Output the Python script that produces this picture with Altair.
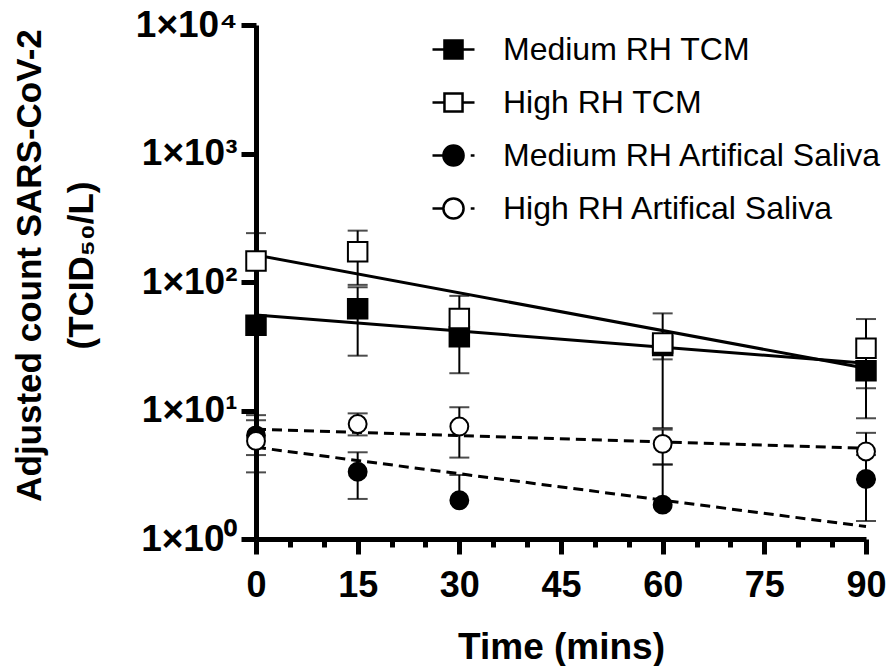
import altair as alt
import pandas as pd

series = ["Medium RH TCM", "High RH TCM", "Medium RH Artifical Saliva", "High RH Artifical Saliva"]
times = [0, 15, 30, 60, 90]

med_tcm = [46, 62, 37.5, 32, 20.4]
med_tcm_lo = [40, 26.7, 19.5, 25, 14.9]
med_tcm_hi = [53, 91, 55, 39, 26]

high_tcm = [146, 172, 52, 33.5, 30.5]
high_tcm_lo = [52, 95, 42, 7.3, 8.7]
high_tcm_hi = [240, 251, 78, 57, 51.5]

med_as = [6.4, 3.34, 2.0, 1.85, 2.93]
med_as_lo = [3.3, 2.05, 2.0, 1.85, 1.38]
med_as_hi = [9.2, 4.73, 3.15, 3.8, 4.5]

high_as = [5.8, 7.85, 7.5, 5.5, 4.8]
high_as_lo = [4.5, 6.4, 4.3, 3.8, 2.9]
high_as_hi = [8.4, 9.5, 10.6, 7.1, 6.7]

fit_x = [0, 90]
med_tcm_fit = [55.4, 23.3]
high_tcm_fit = [162, 21.3]
med_as_fit = [5.17, 1.25]
high_as_fit = [7.14, 5.08]

means = [med_tcm, high_tcm, med_as, high_as]
los = [med_tcm_lo, high_tcm_lo, med_as_lo, high_as_lo]
his = [med_tcm_hi, high_tcm_hi, med_as_hi, high_as_hi]
fits = [med_tcm_fit, high_tcm_fit, med_as_fit, high_as_fit]
kinds = ["square", "square", "circle", "circle"]

rows, caps, fit_rows = [], [], []
for s, k, m, lo, hi, f in zip(series, kinds, means, los, his, fits):
    for t, mv, l, h in zip(times, m, lo, hi):
        rows.append({"series": s, "kind": k, "time": t, "mean": mv, "lo": l, "hi": h})
        for v in (l, h):
            if v != mv:
                caps.append({"series": s, "time": t, "mean": v})
    for t, v in zip(fit_x, f):
        fit_rows.append({"series": s, "kind": k, "time": t, "mean": v})

df = pd.DataFrame(rows)
caps_df = pd.DataFrame(caps)
fit_df = pd.DataFrame(fit_rows)

FONT = "Liberation Sans"

x_axis = alt.Axis(
    values=list(range(0, 91, 5)),
    labelExpr="datum.value % 15 === 0 ? datum.label : ''",
    tickSize={"condition": {"test": "datum.value % 15 === 0", "value": 15}, "value": 8},
    tickWidth=5, tickColor="black", domainWidth=5, domainColor="black",
    labelFont=FONT, labelFontSize=36, labelFontWeight="bold", labelColor="black",
    labelPadding=14, labelOverlap=False, labelFlush=False,
    titleFont=FONT, titleFontSize=37, titleFontWeight="bold", titleColor="black",
    titlePadding=26, grid=False,
)
y_axis = alt.Axis(
    values=[1, 10, 100, 1000, 10000],
    labelExpr="'1×10' + ['⁰','¹','²','³','⁴'][round(log(datum.value)/LN10)]",
    tickSize=15, tickWidth=5, tickColor="black", domainWidth=5, domainColor="black",
    labelFont=FONT, labelFontSize=37, labelFontWeight="bold", labelColor="black",
    labelPadding=4, labelOverlap=False, labelFlush=False,
    titleFont=FONT, titleFontSize=35, titleFontWeight="bold", titleColor="black",
    titleLineHeight=52, titlePadding=36, titleY=240, grid=False,
)

x_scale = alt.Scale(domain=[0, 90], nice=False, zero=False)
y_scale = alt.Scale(type="log", domain=[1, 10000], nice=False)
y_title = ["Adjusted count SARS-CoV-2", "(TCID₅₀/L)"]


def X():
    return alt.X("time:Q", scale=x_scale, axis=x_axis, title="Time (mins)")


def Y(field="mean"):
    return alt.Y(f"{field}:Q", scale=y_scale, axis=y_axis, title=y_title)


fill_scale = alt.Scale(domain=series, range=["black", "white", "black", "white"])

solid = alt.Chart(fit_df).transform_filter(alt.datum.kind == "square").mark_line(
    color="black", strokeWidth=3
).encode(x=X(), y=Y(), detail="series:N")

dashed = alt.Chart(fit_df).transform_filter(alt.datum.kind == "circle").mark_line(
    color="black", strokeWidth=3, strokeDash=[10, 6]
).encode(x=X(), y=Y(), detail="series:N")

bars = alt.Chart(df).mark_rule(color="black", strokeWidth=2).encode(
    x=X(), y=Y("lo"), y2="hi:Q"
)

cap_marks = alt.Chart(caps_df).mark_tick(
    orient="horizontal", size=20, thickness=2, color="black"
).encode(x=X(), y=Y())

squares = alt.Chart(df).transform_filter(alt.datum.kind == "square").mark_point(
    shape="square", filled=True, stroke="black", strokeWidth=2, size=380, opacity=1
).encode(x=X(), y=Y(), fill=alt.Fill("series:N", scale=fill_scale, title=None))

circles = alt.Chart(df).transform_filter(alt.datum.kind == "circle").mark_point(
    shape="circle", filled=True, stroke="black", strokeWidth=2, size=320, opacity=1
).encode(x=X(), y=Y(), fill=alt.Fill("series:N", scale=fill_scale, title=None))

sq_path = "M-1,0H-0.43M0.43,0H1M-0.43,-0.43H0.43V0.43H-0.43Z"
ci_path = "M-1,0H-0.48M0.82,0H1M0.48,0A0.48,0.48,0,1,1,-0.48,0A0.48,0.48,0,1,1,0.48,0Z"

# legend-only layer: its data is filtered away, the legend comes from the explicit scale domains
legend_layer = alt.Chart(df).transform_filter("false").mark_point(
    filled=True, stroke="black", strokeWidth=2.5, opacity=1
).encode(
    x=X(), y=Y(),
    fill=alt.Fill("series:N", scale=fill_scale, title=None,
                  legend=alt.Legend(orient="none", legendX=175, legendY=2,
                                    symbolSize=1764, symbolOpacity=1,
                                    symbolStrokeColor="black", symbolStrokeWidth=2.5,
                                    labelFont=FONT, labelFontSize=32, labelColor="black",
                                    labelOffset=27, rowPadding=14, padding=0,
                                    labelLimit=600)),
    shape=alt.Shape("series:N", scale=alt.Scale(domain=series, range=[sq_path, sq_path, ci_path, ci_path]),
                    title=None),
)

chart = alt.layer(solid, dashed, bars, cap_marks, squares, circles, legend_layer).properties(
    width=610, height=514,
    autosize=alt.AutoSizeParams(type="none"),
    padding={"left": 256, "top": 25, "right": 23, "bottom": 127},
    background="white",
).configure_view(stroke=None)

chart.save("out.html", embed_options={"renderer": "svg", "actions": False})
